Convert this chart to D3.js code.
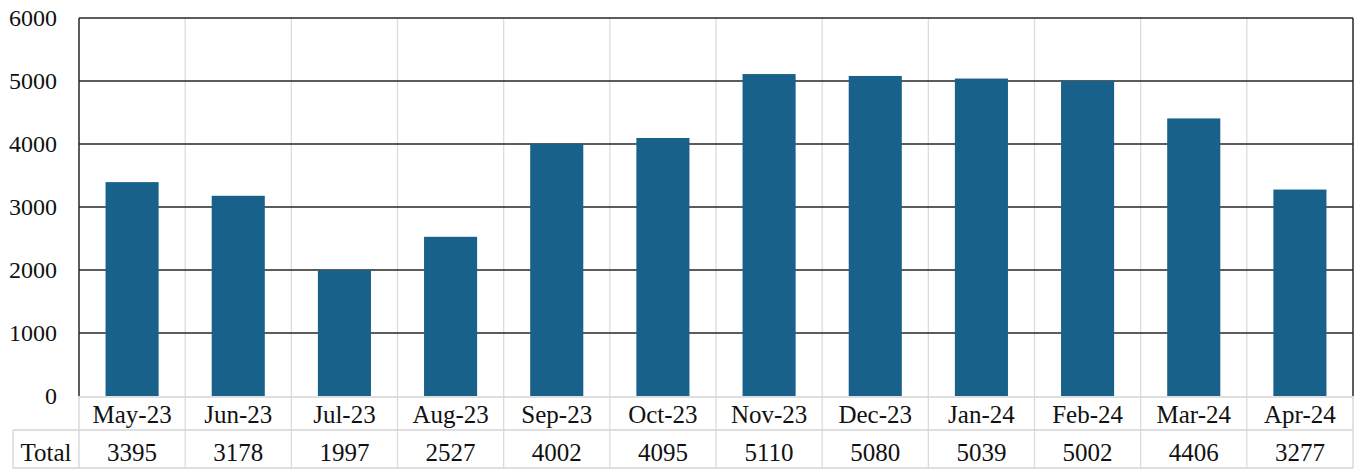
<!DOCTYPE html>
<html><head><meta charset="utf-8">
<script src="https://cdn.jsdelivr.net/npm/d3@7"></script>
<style>
html,body{margin:0;padding:0;background:#fff;font-family:"Liberation Serif",Tinos,"Times New Roman",FreeSerif,serif}
svg{display:block;font-family:"Liberation Serif",Tinos,"Times New Roman",FreeSerif,serif}
</style>
</head><body>
<svg id="c" width="1359" height="469" font-family="Liberation Serif"></svg>
<script>
const categories = ["May-23","Jun-23","Jul-23","Aug-23","Sep-23","Oct-23","Nov-23","Dec-23","Jan-24","Feb-24","Mar-24","Apr-24"];
const totals = [3395,3178,1997,2527,4002,4095,5110,5080,5039,5002,4406,3277];
const yTicks = [0,1000,2000,3000,4000,5000,6000];
const seriesName = "Total";

const svg = d3.select("#c");
const L = 79, R = 1353, T = 18, B = 396;
const rowMid = 430, rowBot = 468, totalLeft = 13;

const x = d3.scaleBand().domain(categories).range([L, R]).paddingInner(0.5).paddingOuter(0.25);
const y = d3.scaleLinear().domain([0, 6000]).range([B, T]);
const step = x.step();
const bounds = d3.range(categories.length + 1).map(i => L + i * step);

// vertical light grid lines (plot + table)
svg.append("g").selectAll("line").data(bounds.slice(1, -1)).join("line")
  .attr("x1", d => d).attr("x2", d => d).attr("y1", T).attr("y2", rowBot)
  .attr("stroke", "#dcdcdc").attr("stroke-width", 1.3);

// table lines
const tg = svg.append("g").attr("stroke", "#d4d4d4").attr("stroke-width", 1.3).attr("fill", "none");
tg.append("line").attr("x1", L).attr("x2", R).attr("y1", B + 1).attr("y2", B + 1);
tg.append("line").attr("x1", totalLeft).attr("x2", R).attr("y1", rowMid).attr("y2", rowMid);
tg.append("line").attr("x1", totalLeft).attr("x2", R).attr("y1", rowBot).attr("y2", rowBot);
tg.append("line").attr("x1", totalLeft).attr("x2", totalLeft).attr("y1", rowMid).attr("y2", rowBot);
tg.append("line").attr("x1", L).attr("x2", L).attr("y1", B).attr("y2", rowBot);
tg.append("line").attr("x1", R).attr("x2", R).attr("y1", B).attr("y2", rowBot);

// horizontal gridlines (dark)
svg.append("g").selectAll("line").data(yTicks.filter(d => d > 0)).join("line")
  .attr("x1", L).attr("x2", R).attr("y1", d => y(d)).attr("y2", d => y(d))
  .attr("stroke", "#262626").attr("stroke-width", 1.5);

// bars
svg.append("g").selectAll("rect").data(categories).join("rect")
  .attr("x", d => x(d)).attr("width", x.bandwidth())
  .attr("y", (d, i) => y(totals[i])).attr("height", (d, i) => y(0) - y(totals[i]))
  .attr("fill", "#18618b");

// frame: left axis and right border
svg.append("line").attr("x1", L).attr("x2", L).attr("y1", T).attr("y2", B)
  .attr("stroke", "#262626").attr("stroke-width", 1.5);
svg.append("line").attr("x1", R).attr("x2", R).attr("y1", T).attr("y2", B)
  .attr("stroke", "#262626").attr("stroke-width", 1.5);

// y axis labels
const yAxis = d3.axisLeft(y).tickValues(yTicks).tickSize(0).tickPadding(22).tickFormat(d3.format("d"));
const ya = svg.append("g").attr("transform", `translate(${L},0)`).call(yAxis)
  .attr("font-family", "Liberation Serif").attr("font-size", 24);
ya.select(".domain").remove();
ya.selectAll("text").attr("fill", "#111");

// category labels row
const tx = svg.append("g").attr("font-family", "Liberation Serif").attr("font-size", 25).attr("fill", "#111");
tx.selectAll("text.cat").data(categories).join("text").attr("class", "cat")
  .attr("x", d => x(d) + x.bandwidth() / 2).attr("y", 423)
  .attr("text-anchor", "middle")
  .text(d => d);

// totals row
tx.selectAll("text.val").data(totals).join("text").attr("class", "val")
  .attr("x", (d, i) => x(categories[i]) + x.bandwidth() / 2).attr("y", 461)
  .attr("text-anchor", "middle")
  .text(d => d);

tx.append("text").attr("x", (totalLeft + L) / 2).attr("y", 461)
  .attr("text-anchor", "middle")
  .text(seriesName);
</script>
</body></html>
